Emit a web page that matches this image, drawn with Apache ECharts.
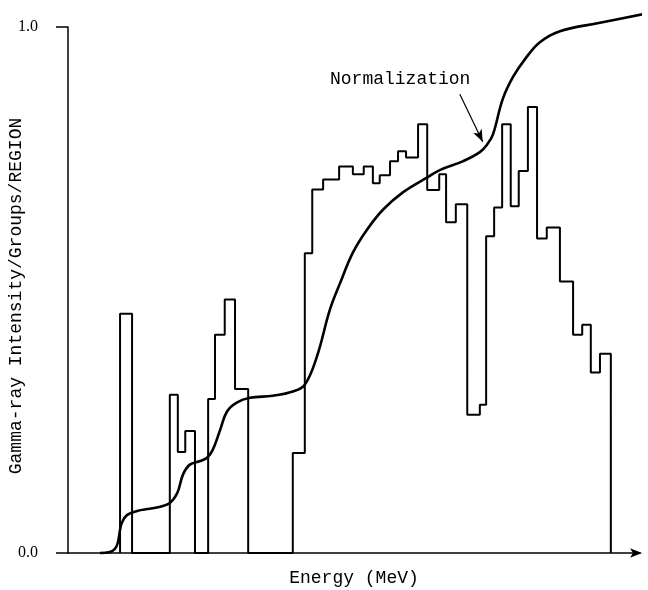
<!DOCTYPE html>
<html>
<head>
<meta charset="utf-8">
<script src="https://cdn.jsdelivr.net/npm/echarts@6/dist/echarts.min.js"></script>
<style>html,body{margin:0;padding:0;background:#fff}#c{width:648px;height:590px}</style>
</head>
<body>
<div id="c"></div>
<script>
// Histogram bin edges (energy, arbitrary MeV scale) and intensities per bin
const binEdges = [0.91,1.12,1.78,1.92,2.05,2.22,2.45,2.57,2.74,2.92,3.15,3.93,4.14,4.27,4.46,4.74,4.98,5.17,5.33,5.45,5.63,5.77,5.91,6.12,6.28,6.49,6.61,6.78,6.98,7.20,7.31,7.45,7.59,7.74,7.88,8.04,8.20,8.37,8.60,8.83,8.99,9.14,9.30,9.49];
const binValues = [0.455,0,0.301,0.192,0.232,0,0.293,0.415,0.482,0.312,0,0.190,0.570,0.691,0.710,0.735,0.720,0.735,0.703,0.718,0.745,0.764,0.752,0.815,0.690,0.720,0.629,0.663,0.263,0.282,0.602,0.657,0.815,0.659,0.726,0.848,0.598,0.619,0.516,0.415,0.434,0.343,0.379];

// Normalization curve
const normEnergy = [0.56,0.73,0.82,0.87,0.91,0.94,1.03,1.21,1.43,1.61,1.78,1.91,2.01,2.13,2.31,2.43,2.53,2.66,2.78,2.95,3.18,3.58,3.93,4.14,4.35,4.58,4.76,4.98,5.23,5.51,5.86,6.28,6.50,6.91,7.20,7.33,7.43,7.60,7.78,7.99,8.25,8.60,9.30,10.12];
const normValue  = [0,0.002,0.008,0.019,0.044,0.057,0.072,0.080,0.084,0.088,0.095,0.114,0.149,0.168,0.175,0.181,0.196,0.234,0.269,0.286,0.295,0.299,0.307,0.320,0.373,0.463,0.514,0.571,0.615,0.653,0.686,0.714,0.728,0.745,0.762,0.777,0.796,0.863,0.905,0.939,0.971,0.992,1.008,1.026];

// Axis ticks and titles
const yTicks = [0, 1];
const yTickLabels = ['0.0', '1.0'];
const xTitle = 'Energy (MeV)';
const yTitle = 'Gamma-ray Intensity/Groups/REGION';

// Annotation
const annotText = 'Normalization';
const annotArrow = [[6.85, 0.872], [7.25, 0.782]];

const histData = [[binEdges[0], 0]];
for (let i = 0; i < binValues.length; i++) {
  histData.push([binEdges[i], binValues[i]]);
  histData.push([binEdges[i + 1], binValues[i]]);
}
histData.push([binEdges[binEdges.length - 1], 0]);

const curveData = normEnergy.map((e, i) => [e, normValue[i]]);

const chart = echarts.init(document.getElementById('c'));
chart.setOption({
  animation: false,
  backgroundColor: '#fff',
  grid: { left: 68, right: 8, top: 27, bottom: 37, containLabel: false, outerBoundsMode: 'none' },
  xAxis: {
    type: 'value', min: 0, max: 10,
    name: xTitle, nameLocation: 'middle', nameGap: 16,
    nameTextStyle: { fontFamily: 'Liberation Mono', fontSize: 18, color: '#000' },
    axisLine: { lineStyle: { color: '#000', width: 1.5 }, symbol: ['none', 'arrow'], symbolSize: [7, 12], symbolOffset: [0, 2] },
    axisTick: { show: false }, axisLabel: { show: false }, splitLine: { show: false }
  },
  yAxis: {
    type: 'value', min: 0, max: 1, interval: 1,
    axisLine: { lineStyle: { color: '#000', width: 1.5 } },
    axisTick: { show: true, length: 12, lineStyle: { color: '#000', width: 1.5 } },
    axisLabel: {
      margin: 30,
      fontFamily: 'Liberation Serif', fontSize: 16, color: '#000',
      formatter: function (v) {
        const idx = yTicks.indexOf(v);
        return idx >= 0 ? yTickLabels[idx] : '';
      }
    },
    splitLine: { show: false }
  },
  series: [
    {
      type: 'line', data: histData, showSymbol: false, clip: false,
      lineStyle: { color: '#000', width: 2 }
    },
    {
      type: 'line', data: curveData, showSymbol: false, clip: false,
      smooth: 0.4,
      lineStyle: { color: '#000', width: 2.6 },
      markLine: {
        silent: true, symbol: ['none', 'arrow'], symbolSize: [7, 12],
        lineStyle: { color: '#000', width: 1.2, type: 'solid' },
        label: { show: false },
        data: [[{ coord: annotArrow[0] }, { coord: annotArrow[1] }]]
      }
    }
  ],
  graphic: [
    { type: 'text', left: 330, top: 70,
      style: { text: annotText, fontFamily: 'Liberation Mono', fontSize: 18, fill: '#000' } },
    { type: 'text', x: 16, y: 296, rotation: Math.PI / 2,
      style: { text: yTitle, fontFamily: 'Liberation Mono', fontSize: 18, fill: '#000',
               align: 'center', verticalAlign: 'middle' } }
  ]
});
</script>
</body>
</html>
